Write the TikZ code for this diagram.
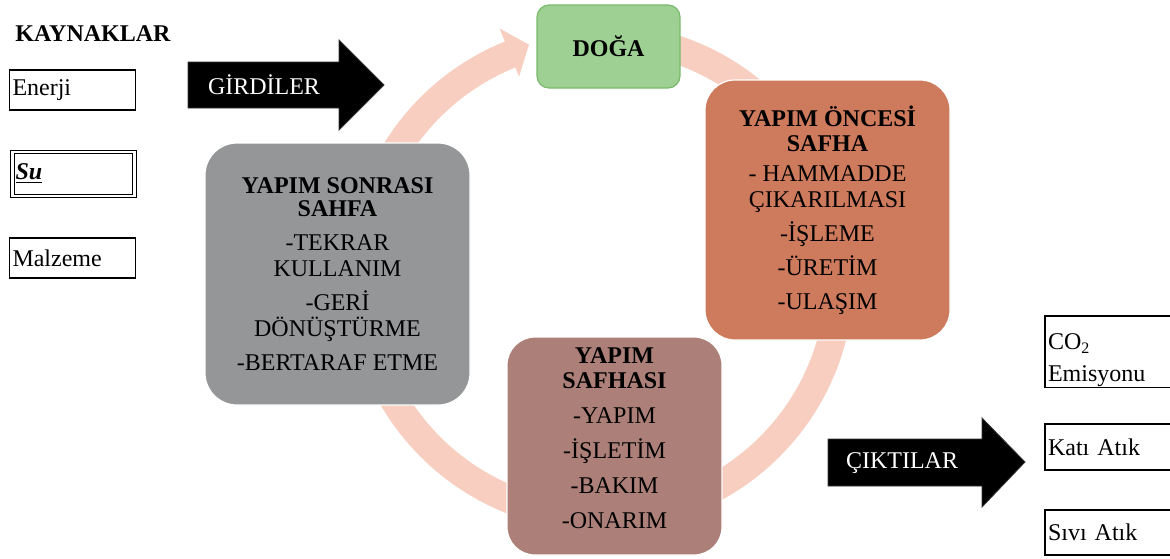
\documentclass[tikz,border=0pt]{standalone}
\usepackage{fontspec}
\setmainfont{Liberation Serif}
\usetikzlibrary{calc}
\usetikzlibrary{positioning}

\definecolor{ringpink}{RGB}{247,206,192}
\definecolor{dogafill}{RGB}{158,208,148}
\definecolor{dogaline}{RGB}{122,186,108}
\definecolor{oncefill}{RGB}{206,122,92}
\definecolor{sonrafill}{RGB}{148,150,152}
\definecolor{yapimfill}{RGB}{172,128,120}

\begin{document}
\begin{tikzpicture}[x=0.5pt, y=-0.5pt,
    every node/.style={font=\fontsize{12}{13}\selectfont},
    phase/.style={rounded corners=15pt, draw=white, line width=0.6pt, align=center, inner sep=0pt},
    resbox/.style={draw, line width=0.6pt, align=left, inner xsep=1.5pt, inner ysep=0pt, text width=60pt, minimum height=20pt},
    blockarrow/.style={fill=black, draw=black!80, line width=0.4pt}
]
    \useasboundingbox (0,0) rectangle (1170,558);
    \clip (0,0) rectangle (1170,558);

    % Constants
    \pgfmathsetmacro{\cx}{600}
    \pgfmathsetmacro{\cy}{277}
    \pgfmathsetmacro{\R}{240}

    % Cycle ring
    \coordinate (O) at (\cx, \cy);
    \draw [ringpink, line width=14pt] ($(O) + (-80:\R)$) arc[radius=\R, start angle=-80, end angle=248.5];
    \fill [ringpink] ($(O) + (248:268)$) -- ($(O) + (253:243)$) -- ($(O) + (248:216)$) -- cycle;

    % Phases
    \node [phase, fill=dogafill, draw=dogaline, rounded corners=6pt, minimum width=71.5pt, minimum height=41.5pt] (doga) at (608.5,46.5) {\textbf{DOĞA}};

    \node [phase, fill=oncefill, minimum width=122.5pt, minimum height=130pt] (once) at (827.5,210)
        {\textbf{YAPIM ÖNCESİ}\\[-0.5pt]\textbf{SAFHA}\\[2pt]- HAMMADDE\\ÇIKARILMASI\\[4pt]-İŞLEME\\[4pt]-ÜRETİM\\[4pt]-ULAŞIM};

    \node [phase, fill=sonrafill, rounded corners=16pt, minimum width=132.5pt, minimum height=131pt] (sonra) at (337.5,274)
        {\textbf{YAPIM SONRASI}\\[-1.5pt]\textbf{SAHFA}\\[4pt]-TEKRAR\\KULLANIM\\[4pt]-GERİ\\DÖNÜŞTÜRME\\[4pt]-BERTARAF ETME};

    \node [phase, fill=yapimfill, rounded corners=14pt, minimum width=107.5pt, minimum height=109pt, text depth=8pt] (yapim) at (614.5,446)
        {\textbf{YAPIM}\\[-0.5pt]\textbf{SAFHASI}\\[4.5pt]-YAPIM\\[4.5pt]-İŞLETİM\\[4.5pt]-BAKIM\\[4.5pt]-ONARIM};

    % Resources
    \node [anchor=west, inner sep=0pt, font=\fontsize{12}{13}\selectfont\bfseries] (kaynak) at (15,34) {KAYNAKLAR};
    \node [resbox] (enerji) at (72.5,90) {Enerji};
    \node [resbox, double, double distance=1.2pt, text width=58pt, minimum height=22pt] (su) at (73.5,174) {\textbf{\textit{\underline{Su}}}};
    \node [resbox] (malzeme) at (72.5,258) {Malzeme};

    % Inputs arrow
    \coordinate (g1) at (188,62);
    \coordinate (g2) at (339,62);
    \coordinate (g3) at (339,40);
    \coordinate (g4) at (384,85);
    \coordinate (g5) at (339,130);
    \coordinate (g6) at (339,108);
    \coordinate (g7) at (188,108);
    \fill [blockarrow] (g1) -- (g2) -- (g3) -- (g4) -- (g5) -- (g6) -- (g7) -- cycle;
    \node [text=white] (girdi) at (264,85) {GİRDİLER};

    % Outputs arrow
    \coordinate (c1) at (828,439);
    \coordinate (c2) at (982,439);
    \coordinate (c3) at (982,418);
    \coordinate (c4) at (1025,462);
    \coordinate (c5) at (982,507);
    \coordinate (c6) at (982,486);
    \coordinate (c7) at (828,486);
    \fill [blockarrow] (c1) -- (c2) -- (c3) -- (c4) -- (c5) -- (c6) -- (c7) -- cycle;
    \node [text=white] (cikti) at (902,463) {ÇIKTILAR};

    % Outputs
    \node [resbox, text width=62pt, minimum height=33.5pt] (co2) at (1110,351.5) {\rule{0pt}{17pt}CO\textsubscript{2}\\[3pt]Emisyonu};
    \node [resbox, text width=62pt, minimum height=23pt] (kati) at (1110,447) {Katı Atık};
    \node [resbox, text width=62pt, minimum height=22.5pt] (sivi) at (1110,532.5) {Sıvı Atık};

\end{tikzpicture}
\end{document}
